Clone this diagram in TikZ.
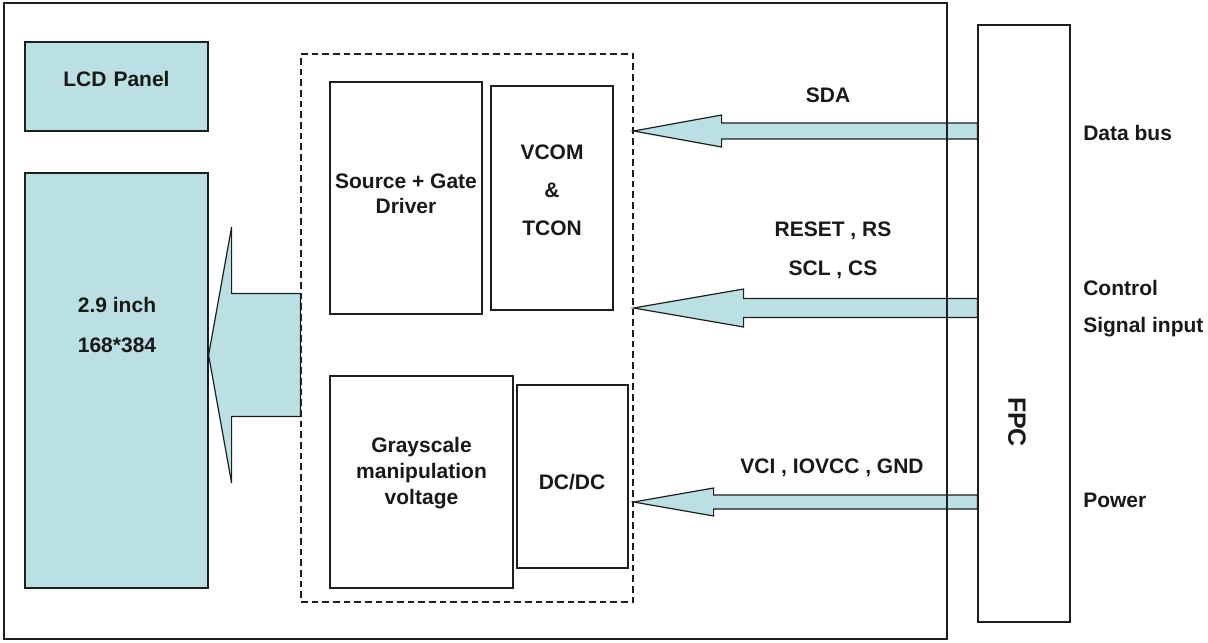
\documentclass[tikz,border=0pt]{standalone}
\usepackage{fontspec}
\setmainfont{Liberation Sans}
\usetikzlibrary{fit,calc}
\definecolor{lcdblue}{RGB}{187,224,228}
\definecolor{edge}{RGB}{30,30,30}
\pgfdeclarelayer{bg}
\pgfsetlayers{bg,main}
\tikzset{
  box/.style={draw=edge, line width=0.9pt, inner sep=0pt, fit={#1}},
  bluebox/.style={box={#1}, fill=lcdblue},
  dashbox/.style={draw=edge, line width=0.9pt, inner sep=0pt, dash pattern=on 5pt off 3pt, fit={#1}},
  txt/.style={font=\fontsize{15.75}{19}\selectfont\bfseries, align=center, inner sep=0pt, text=black!90},
  fatarr/.style={fill=lcdblue, draw=edge, line width=0.9pt, line join=miter}
}
% #1 tail, #2 tip, #3 shaft half width, #4 head half width, #5 head length (px)
\newcommand{\fatarrow}[5]{%
  \filldraw[fatarr] let \p1=(#1), \p2=(#2) in
   (\x1,{\y2+#3*0.75pt}) -- ({\x2+#5*0.75pt},{\y2+#3*0.75pt}) -- ({\x2+#5*0.75pt},{\y2+#4*0.75pt})
   -- (\x2,\y2) -- ({\x2+#5*0.75pt},{\y2-#4*0.75pt}) -- ({\x2+#5*0.75pt},{\y2-#3*0.75pt})
   -- (\x1,{\y2-#3*0.75pt}) -- cycle;}
\begin{document}
\begin{tikzpicture}[x=0.75pt,y=-0.75pt]
\useasboundingbox (0,0) rectangle (1208,643);
% boxes
\node[box={(4,3) (947,639)}] (outer) {};
\node[bluebox={(25,42) (208,131)}, txt] (lcd) {LCD Panel};
\node[bluebox={(25,173) (208,588)}] (panel) {};
\node[txt, font=\fontsize{15.75}{30}\selectfont\bfseries] (paneltxt) at (117,325) {2.9 inch\\168*384};
\node[dashbox={(301,54) (633,602)}] (dash) {};
\node[box={(330,82) (482,314)}] (sg) {};
\node[txt, font=\fontsize{15.75}{18.75}\selectfont\bfseries] (sgtxt) at (406,194) {Source + Gate\\Driver};
\node[box={(491,86) (613,310)}] (vcom) {};
\node[txt, font=\fontsize{15.75}{28.5}\selectfont\bfseries] (vcomtxt) at (552,190) {VCOM\\\&\\TCON};
\node[box={(330,376) (513,588)}] (gray) {};
\node[txt, font=\fontsize{15.75}{19.5}\selectfont\bfseries] (graytxt) at (421.5,473) {Grayscale\\manipulation\\voltage};
\node[box={(517,385) (628,568)}] (dcdc) {};
\node[txt] (dctxt) at (572,482) {DC/DC};
\node[box={(978,25) (1070,622)}] (fpc) {};
\node[txt, font=\fontsize{18.75}{22}\selectfont\bfseries, rotate=-90] (fpctxt) at (1017,422) {FPC};
% signal labels
\node[txt] (sda) at (828,95) {SDA};
\node[txt, font=\fontsize{15.75}{29}\selectfont\bfseries] (ctl) at (833,250.5) {RESET , RS\\SCL , CS};
\node[txt] (pwr) at (832,468) {VCI , IOVCC , GND};
% right labels
\node[txt, anchor=west] (databus) at (1083,133) {Data bus};
\node[txt, anchor=west, align=left, font=\fontsize{15.75}{28}\selectfont\bfseries] (control) at (1083,308.5) {Control\\Signal input};
\node[txt, anchor=west] (power) at (1083,500) {Power};
% arrows
\coordinate (ysda) at (0,131);
\coordinate (yctl) at (0,308);
\coordinate (ypwr) at (0,502);
\coordinate (ybig) at (0,355);
\begin{pgfonlayer}{bg}
\fatarrow{fpc.west |- ysda}{dash.east |- ysda}{8}{16}{88}
\fatarrow{fpc.west |- yctl}{dash.east |- yctl}{9.5}{19}{110}
\fatarrow{fpc.west |- ypwr}{dash.east |- ypwr}{7}{14}{80}
\fatarrow{dash.west |- ybig}{panel.east |- ybig}{61.5}{128}{23}
\end{pgfonlayer}
\end{tikzpicture}
\end{document}
